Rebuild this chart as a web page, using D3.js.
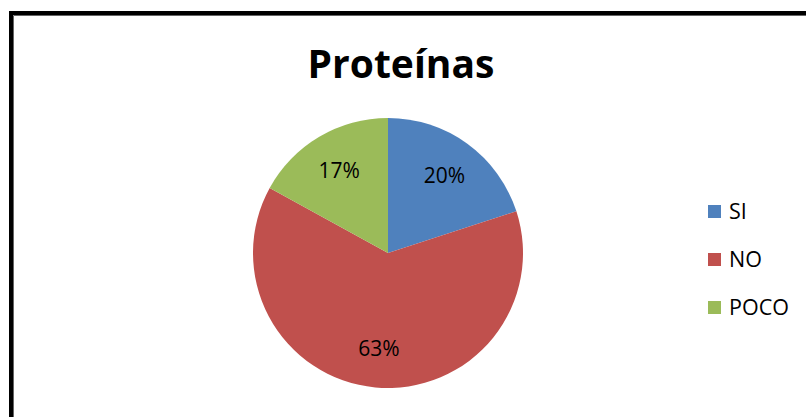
<!DOCTYPE html>
<html>
<head>
<meta charset="utf-8">
<script src="https://cdn.jsdelivr.net/npm/d3@7"></script>
<style>
  body { margin: 0; background: #fff; }
  svg { display: block; }
</style>
</head>
<body>
<div class="graph"></div>
<script>
// Datos del gráfico
const categorias = ["SI", "NO", "POCO"];
const valores = [20, 63, 17];
const colores = ["#4F81BD", "#C0504D", "#9BBB59"];
const titulo = "Proteínas";

const width = 806;
const height = 417;

const svg = d3
    .select(".graph")
    .append("svg")
    .attr("width", width)
    .attr("height", height);

// Marco del gráfico (sólo se ven los bordes izquierdo y superior)
svg.append("rect")
    .attr("x", 11)
    .attr("y", 13)
    .attr("width", 900)
    .attr("height", 500)
    .attr("fill", "none")
    .attr("stroke", "#000")
    .attr("stroke-width", 4);
svg.append("path")
    .attr("d", "M13.5,600 V15.5 H900")
    .attr("fill", "none")
    .attr("stroke", "#666")
    .attr("stroke-width", 1);

// Título
svg.append("text")
    .attr("x", 401)
    .attr("y", 78)
    .attr("text-anchor", "middle")
    .style("font-family", "'Open Sans', sans-serif")
    .style("font-weight", "bold")
    .style("font-size", "39px")
    .text(titulo);

// Pastel
const cx = 388;
const cy = 253;
const radio = 135;

const pie = d3.pie().sort(null).value(d => d.valor);
const datos = categorias.map((c, i) => ({ cat: c, valor: valores[i], color: colores[i] }));
const arcos = pie(datos);

const arc = d3.arc().innerRadius(0).outerRadius(radio);
const arcEtiqueta = d3.arc().innerRadius(radio * 0.71).outerRadius(radio * 0.71);

const g = svg.append("g").attr("transform", `translate(${cx}, ${cy})`);

g.selectAll("path")
    .data(arcos)
    .join("path")
    .attr("d", arc)
    .attr("fill", d => d.data.color);

const total = d3.sum(valores);
g.selectAll("text")
    .data(arcos)
    .join("text")
    .attr("transform", d => `translate(${arcEtiqueta.centroid(d)})`)
    .attr("text-anchor", "middle")
    .attr("dy", "0.35em")
    .style("font-family", "'Open Sans', sans-serif")
    .style("font-size", "21px")
    .attr("fill", "#000")
    .text(d => `${Math.round(d.data.valor / total * 100)}%`);

// Leyenda
const leyendaY = d3.scalePoint().domain(categorias).range([211, 307]);

const leyenda = svg.append("g").attr("id", "legend");
leyenda.selectAll("rect")
    .data(datos)
    .join("rect")
    .attr("x", 708)
    .attr("y", d => leyendaY(d.cat) - 6)
    .attr("width", 13)
    .attr("height", 13)
    .attr("fill", d => d.color);

leyenda.selectAll("text")
    .data(datos)
    .join("text")
    .attr("x", 729)
    .attr("y", d => leyendaY(d.cat))
    .attr("dy", "0.36em")
    .style("font-family", "'Open Sans', sans-serif")
    .style("font-size", "21.5px")
    .text(d => d.cat);
</script>
</body>
</html>
